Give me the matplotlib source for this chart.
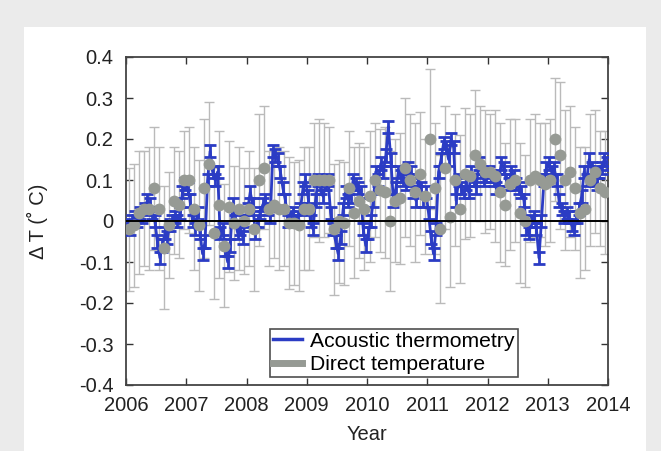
import numpy as np
import matplotlib
matplotlib.use("Agg")
import matplotlib.pyplot as plt
from matplotlib.patches import Rectangle
from matplotlib.lines import Line2D

plt.rcParams['font.family'] = ['Liberation Sans', 'DejaVu Sans']
plt.rcParams['axes.unicode_minus'] = False

# ---- Direct temperature: monthly values 2006-2013 ----
direct_vals = [
    -0.02, -0.01, 0.02, 0.03, 0.03, 0.08, 0.03, -0.065, -0.01, 0.05, 0.04, 0.10,   # 2006
    0.10, 0.03, -0.01, 0.08, 0.14, -0.03, 0.04, -0.06, 0.035, -0.005, 0.03, 0.00,  # 2007
    0.03, -0.02, 0.10, 0.13, 0.03, 0.04, 0.03, 0.03, -0.005, -0.005, -0.01, 0.03,  # 2008
    0.03, 0.10, 0.10, 0.10, 0.10, -0.02, 0.00, -0.005, 0.08, 0.02, 0.05, 0.03,     # 2009
    0.06, 0.10, 0.075, 0.07, 0.00, 0.05, 0.055, 0.13, 0.10, 0.07, 0.115, 0.06,     # 2010
    0.20, 0.08, -0.02, 0.13, 0.01, 0.10, 0.03, 0.115, 0.11, 0.16, 0.14, 0.12,      # 2011
    0.12, 0.11, 0.07, 0.04, 0.09, 0.10, 0.02, 0.00, 0.10, 0.11, 0.10, 0.09,        # 2012
    0.10, 0.20, 0.16, 0.10, 0.12, 0.08, 0.02, 0.03, 0.10, 0.12, 0.08, 0.07,        # 2013
]
direct_err = [
    0.15, 0.15, 0.15, 0.14, 0.15, 0.15, 0.15, 0.15, 0.13, 0.13, 0.13, 0.12,
    0.13, 0.15, 0.16, 0.17, 0.15, 0.16, 0.18, 0.15, 0.16, 0.14, 0.15, 0.13,
    0.14, 0.15, 0.16, 0.15, 0.14, 0.13, 0.15, 0.14, 0.16, 0.15, 0.16, 0.15,
    0.15, 0.14, 0.15, 0.14, 0.13, 0.16, 0.15, 0.15, 0.14, 0.16, 0.14, 0.15,
    0.16, 0.14, 0.15, 0.16, 0.17, 0.15, 0.16, 0.17, 0.16, 0.17, 0.15, 0.14,
    0.17, 0.16, 0.18, 0.15, 0.17, 0.16, 0.18, 0.16, 0.15, 0.16, 0.14, 0.15,
    0.14, 0.16, 0.17, 0.15, 0.16, 0.15, 0.17, 0.16, 0.15, 0.15, 0.14, 0.15,
    0.15, 0.15, 0.18, 0.17, 0.16, 0.15, 0.16, 0.15, 0.16, 0.15, 0.14, 0.15,
]

# ---- Acoustic thermometry: twice-monthly values 2006-2013 ----
acoustic_vals = [
    -0.01, -0.02, 0.00, 0.01, 0.00, 0.02, 0.01, 0.03, 0.05, 0.04, 0.02, 0.00,
    -0.05, -0.09, -0.06, -0.03, -0.04, -0.01, 0.00, 0.01, 0.00, 0.02, 0.07, 0.09,   # 2006
    0.08, 0.05, 0.00, -0.02, 0.02, -0.03, -0.08, -0.05, 0.10, 0.17, 0.12, 0.10,
    0.12, -0.03, -0.02, -0.07, -0.10, -0.06, 0.04, 0.00, -0.03, -0.02, -0.04, 0.00, # 2007
    0.03, 0.07, 0.04, -0.03, 0.00, 0.02, 0.04, 0.05, 0.03, 0.01, 0.17, 0.16,
    0.15, 0.12, 0.08, 0.05, 0.00, 0.01, 0.02, 0.00, 0.01, 0.03, 0.08, 0.10,        # 2008
    0.06, 0.00, -0.02, 0.05, 0.10, 0.08, 0.06, 0.09, 0.10, 0.02, -0.02, -0.05,
    -0.08, -0.04, 0.03, 0.07, 0.05, 0.06, 0.10, 0.09, 0.08, 0.07, -0.02, -0.06,    # 2009
    -0.03, 0.00, 0.05, 0.12, 0.10, 0.14, 0.12, 0.16, 0.23, 0.15, 0.05, 0.08,
    0.12, 0.11, 0.10, 0.09, 0.13, 0.12, 0.07, 0.05, 0.10, 0.08, 0.05, 0.07,        # 2010
    0.02, -0.04, -0.08, -0.02, 0.12, 0.15, 0.19, 0.18, 0.15, 0.20, 0.18, 0.05,
    0.10, 0.08, 0.07, 0.09, 0.07, 0.12, 0.10, 0.08, 0.14, 0.12, 0.10, 0.11,        # 2011
    0.12, 0.11, 0.10, 0.08, 0.10, 0.14, 0.13, 0.10, 0.09, 0.12, 0.11, 0.09,
    0.08, 0.07, 0.05, -0.02, -0.03, 0.00, 0.01, -0.02, -0.09, 0.00, 0.10, 0.13,    # 2012
    0.14, 0.12, 0.13, 0.10, 0.05, 0.03, 0.01, 0.02, 0.01, -0.01, -0.02, 0.01,
    0.03, 0.06, 0.12, 0.10, 0.15, 0.13, 0.10, 0.09, 0.12, 0.13, 0.15, 0.14,        # 2013
]
acoustic_err = 0.015

year_start = 2006
year_end = 2014
yticks = [-0.4, -0.3, -0.2, -0.1, 0, 0.1, 0.2, 0.3, 0.4]
ytick_labels = ["-0.4", "-0.3", "-0.2", "-0.1", "0", "0.1", "0.2", "0.3", "0.4"]
xticks = [2006, 2007, 2008, 2009, 2010, 2011, 2012, 2013, 2014]
legend_labels = ["Acoustic thermometry", "Direct temperature"]

n_d = len(direct_vals)
t_direct = year_start + (np.arange(n_d) + 0.5) / 12.0
n_a = len(acoustic_vals)
t_acoustic = year_start + (np.arange(n_a) + 0.5) / 24.0

fig = plt.figure(figsize=(6.61, 4.51), dpi=100, facecolor="#ebebeb")
fig.patches.append(Rectangle((24 / 661, 0), (646 - 24) / 661, (451 - 27) / 451,
                             transform=fig.transFigure, facecolor="white",
                             edgecolor="none", zorder=-5))

ax = fig.add_axes([126 / 661, (451 - 385) / 451, (608 - 126) / 661, (385 - 57) / 451])
ax.set_zorder(2)
ax.set_facecolor("white")

blue = "#2b3cc4"
gray_bar = "#bababa"
gray_mk = "#969a94"

# gray error bars (behind)
ax.errorbar(t_direct, direct_vals, yerr=direct_err, fmt="none", ecolor=gray_bar,
            elinewidth=1.0, capsize=3.5, capthick=1.0, zorder=2)
# blue acoustic series
ax.errorbar(t_acoustic, acoustic_vals, yerr=acoustic_err, fmt="-", color=blue,
            lw=2.0, ecolor=blue, elinewidth=2.0, capsize=4, capthick=2.0, zorder=3)
# gray markers on top
ax.plot(t_direct, direct_vals, "o", color=gray_mk, markersize=8.5, markeredgewidth=0, zorder=4)
ax.axhline(0, color="black", lw=1.4, zorder=5)

ax.set_xlim(year_start, year_end)
ax.set_ylim(-0.4, 0.4)
ax.set_xticks(xticks)
ax.set_xticklabels([str(x) for x in xticks])
ax.set_yticks(yticks)
ax.set_yticklabels(ytick_labels)
ax.tick_params(direction="in", length=5, width=1, top=True, right=True,
               labelsize=14.5, colors="#333333", labelcolor="#222222")
ax.tick_params(axis="y", pad=9)
ax.tick_params(axis="x", pad=8)
for s in ax.spines.values():
    s.set_color("#444444")
    s.set_linewidth(1.3)

ax.set_xlabel("Year", fontsize=14.5, color="#222222", labelpad=7)
ax.set_ylabel("Δ T (˚ C)", fontsize=14.5, color="#222222", labelpad=22)

handles = [Line2D([], [], color=blue, lw=2.5), Line2D([], [], color=gray_mk, lw=5)]
leg = ax.legend(handles, legend_labels, loc="lower left",
                bbox_to_anchor=(0.299, 0.024), borderaxespad=0, fontsize=15.2,
                frameon=True, fancybox=False, handlelength=1.35, handletextpad=0.4,
                labelspacing=0.2, borderpad=0.15)
leg.get_frame().set_edgecolor("#222222")
leg.get_frame().set_linewidth(1.2)
leg.set_zorder(10)

fig.savefig("out.png", dpi=100, facecolor=fig.get_facecolor())
